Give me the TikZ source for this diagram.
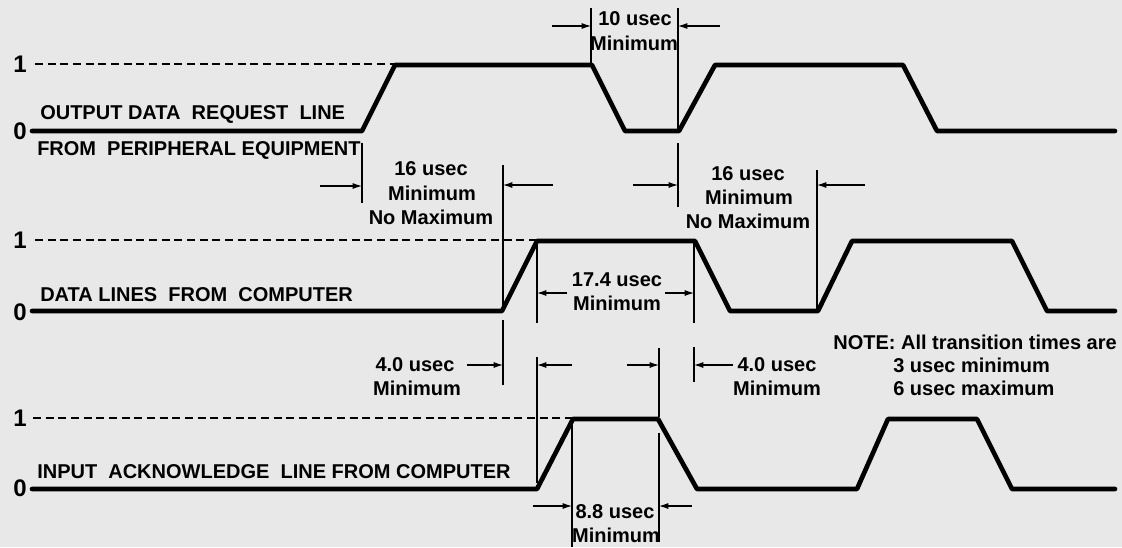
\documentclass[tikz,border=0pt]{standalone}
\usepackage{fontspec}
\setmainfont{Liberation Sans}
\usetikzlibrary{arrows.meta}
\begin{document}
\begin{tikzpicture}[x=0.75pt,y=-0.75pt,
  sig/.style={line width=3.5pt,line join=round,line cap=round},
  lvl/.style={line width=1pt,dash pattern=on 6pt off 3.5pt},
  dim/.style={line width=0.8pt},
  arr/.style={line width=0.8pt,-{Latex[length=7pt,width=4.5pt]}},
  lbl/.style={font=\bfseries\fontsize{15}{17}\selectfont,inner sep=0pt},
  lvlbl/.style={font=\bfseries\fontsize{18}{19}\selectfont,inner sep=0pt}]
\useasboundingbox (0,0) rectangle (1122,547);
\fill[black!9] (0,0) rectangle (1122,547);

% level labels and reference lines
\node[lvlbl] (a1) at (20,64) {1};
\node[lvlbl] (a0) at (20,131) {0};
\node[lvlbl] (b1) at (20,240) {1};
\node[lvlbl] (b0) at (20,312) {0};
\node[lvlbl] (c1) at (20,418) {1};
\node[lvlbl] (c0) at (20,488) {0};
\draw[lvl] (35,64) -- (395,64);
\draw[lvl] (35,240) -- (537,240);
\draw[lvl] (33,418) -- (573,418);

% signals
\draw[sig] (32,131) -- (362,131) -- (395,65) -- (592,65) -- (625,131) -- (679,131)
  -- (715,65) -- (903,65) -- (937,131) -- (1115,131);
\draw[sig] (32,311) -- (502,311) -- (537,241) -- (695,241) -- (730,311) -- (818,311)
  -- (852,241) -- (1012,241) -- (1047,311) -- (1115,311);
\draw[sig] (32,489) -- (537,489) -- (573,419) -- (658,419) -- (697,489) -- (857,489)
  -- (888,419) -- (977,419) -- (1012,489) -- (1115,489);

% signal names
\node[lbl,anchor=west] (s1a) at (40,114) {OUTPUT\ DATA\ \ REQUEST\ \ LINE};
\node[lbl,anchor=west] (s1b) at (37,150) {FROM\ \ PERIPHERAL EQUIPMENT};
\node[lbl,anchor=west] (s2) at (40,295) {DATA LINES\ \ FROM\ \ COMPUTER};
\node[lbl,anchor=west] (s3) at (37,472) {INPUT\ \ ACKNOWLEDGE\ \ LINE\ FROM\ COMPUTER};

% 10 usec
\draw[dim] (591,8) -- (591,63);
\draw[dim] (678,8) -- (678,129);
\coordinate (t10a) at (552,26); \coordinate (t10b) at (591,26);
\coordinate (t10c) at (720,26); \coordinate (t10d) at (678,26);
\draw[arr] (t10a) -- (t10b);
\draw[arr] (t10c) -- (t10d);
\node[lbl] (l10a) at (635,19) {10 usec};
\node[lbl] (l10b) at (634,43) {Minimum};

% 16 usec left
\draw[dim] (362,143) -- (362,203);
\draw[dim] (503,165) -- (503,309);
\coordinate (p1) at (320,186); \coordinate (p2) at (362,186);
\coordinate (p3) at (553,185); \coordinate (p4) at (503,185);
\draw[arr] (p1) -- (p2);
\draw[arr] (p3) -- (p4);
\node[lbl] (l16a) at (431,169) {16 usec};
\node[lbl] (l16b) at (432,193) {Minimum};
\node[lbl] (l16c) at (431,217) {No Maximum};

% 16 usec right
\draw[dim] (678,143) -- (678,207);
\draw[dim] (817,170) -- (817,309);
\coordinate (q1) at (633,185); \coordinate (q2) at (678,185);
\coordinate (q3) at (865,185); \coordinate (q4) at (817,185);
\draw[arr] (q1) -- (q2);
\draw[arr] (q3) -- (q4);
\node[lbl] (m16a) at (748,174) {16 usec};
\node[lbl] (m16b) at (749,197) {Minimum};
\node[lbl] (m16c) at (748,221) {No Maximum};

% 17.4 usec
\draw[dim] (537,243) -- (537,323);
\draw[dim] (694,243) -- (694,323);
\coordinate (r1) at (567,293); \coordinate (r2) at (537,293);
\coordinate (r3) at (665,293); \coordinate (r4) at (694,293);
\draw[arr] (r1) -- (r2);
\draw[arr] (r3) -- (r4);
\node[lbl] (l17a) at (617,280) {17.4 usec};
\node[lbl] (l17b) at (617,303) {Minimum};

% 4.0 usec left
\draw[dim] (503,320) -- (503,385);
\draw[dim] (537,357) -- (537,483);
\coordinate (u1) at (467,365); \coordinate (u2) at (503,365);
\coordinate (u3) at (572,365); \coordinate (u4) at (537,365);
\draw[arr] (u1) -- (u2);
\draw[arr] (u3) -- (u4);
\node[lbl] (l4a) at (415,365) {4.0 usec};
\node[lbl] (l4b) at (417,388) {Minimum};

% 4.0 usec right
\draw[dim] (694,347) -- (694,382);
\draw[dim] (659,348) -- (659,417);
\coordinate (v1) at (627,365); \coordinate (v2) at (659,365);
\coordinate (v3) at (733,365); \coordinate (v4) at (694,365);
\draw[arr] (v1) -- (v2);
\draw[arr] (v3) -- (v4);
\node[lbl] (m4a) at (777,365) {4.0 usec};
\node[lbl] (m4b) at (777,388) {Minimum};

% 8.8 usec
\draw[dim] (572,425) -- (572,547);
\draw[dim] (659,433) -- (659,542);
\coordinate (w1) at (533,506); \coordinate (w2) at (572,506);
\coordinate (w3) at (692,506); \coordinate (w4) at (659,506);
\draw[arr] (w1) -- (w2);
\draw[arr] (w3) -- (w4);
\node[lbl] (l8a) at (615,512) {8.8 usec};
\node[lbl] (l8b) at (616,535) {Minimum};

% note
\node[lbl,anchor=east] (n1) at (1117,342) {NOTE: All transition times are};
\node[lbl,anchor=west] (n2) at (893,365) {3 usec minimum};
\node[lbl,anchor=west] (n3) at (893,388) {6 usec maximum};
\end{tikzpicture}
\end{document}
